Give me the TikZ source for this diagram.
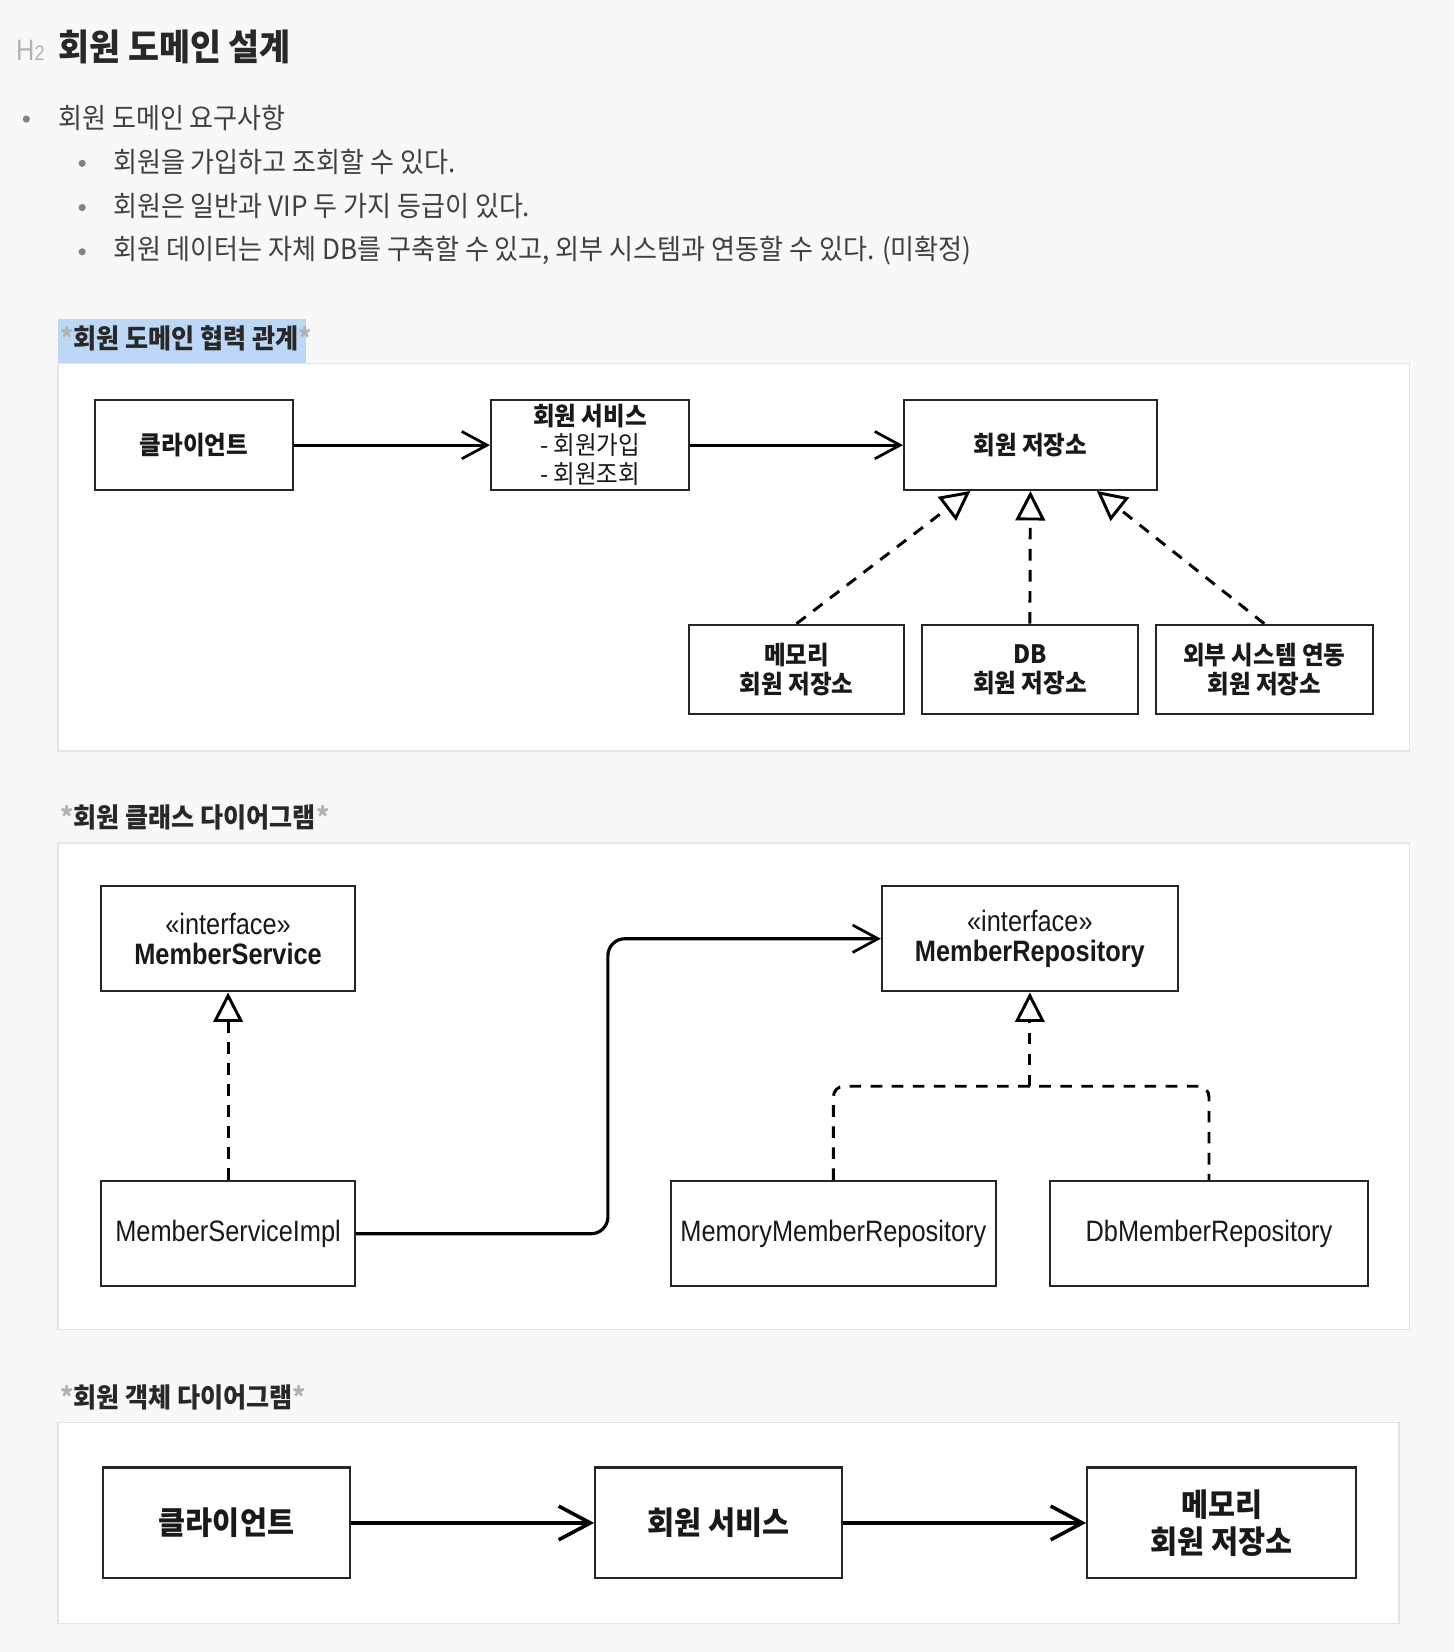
\documentclass[tikz,border=0pt]{standalone}
\usepackage{fontspec}
\setmainfont{Noto Sans CJK KR}[FakeStretch=0.93]
\newfontfamily\umlfont{Liberation Sans}[FakeStretch=0.86]
\usetikzlibrary{arrows.meta}

\definecolor{pagebg}{RGB}{248,248,248}
\definecolor{panelline}{RGB}{228,228,228}
\definecolor{selblue}{RGB}{189,216,246}
\definecolor{headtext}{RGB}{40,40,40}
\definecolor{bodytext}{RGB}{64,64,64}
\definecolor{markgray}{RGB}{178,178,178}
\definecolor{dotgray}{RGB}{130,130,130}

\tikzset{
        txt/.style={anchor=west, inner sep=0pt, text=bodytext, font=\fontsize{13.3}{16}\selectfont},
        captxt/.style={anchor=west, inner sep=0pt, text=headtext, font=\bfseries\fontsize{12.8}{16}\selectfont},
        panel/.style={draw=panelline, line width=0.75pt, fill=white},
        box/.style={draw=black!85, line width=1pt, fill=white, align=center, inner sep=0pt,
                text=black!90, font=\bfseries\fontsize{12}{13.75}\selectfont},
        umlbox/.style={box, font=\umlfont\fontsize{14}{14}\selectfont},
        bigbox/.style={box, line width=1.1pt, font=\bfseries\fontsize{15}{17.5}\selectfont},
        dep/.style={line width=1.3pt, -{Straight Barb[length=12pt, width=13pt, line width=1.3pt]}},
        bigdep/.style={line width=1.7pt, -{Straight Barb[length=15pt, width=16pt, line width=1.7pt]}},
        dashline/.style={line width=1.4pt, dash pattern=on 5.5pt off 4.5pt},
        impl/.style={dashline, -{Triangle[open, length=14pt, width=14pt, line width=1.4pt]}}
}

\begin{document}
\begin{tikzpicture}[x=0.5pt,y=-0.5pt]
        \useasboundingbox[fill=pagebg] (0,0) rectangle (1380,1568);

        \node[txt, text=markgray, font=\umlfont] (h2) at (15,48) {{\fontsize{14}{14}\selectfont H}{\fontsize{10}{10}\selectfont 2}};
        \node[txt, text=headtext, font=\bfseries\fontsize{17.2}{20}\selectfont] (title) at (55,45) {회원 도메인 설계};

        \fill[dotgray] (25,113) circle (1.7pt);
        \node[txt] (req) at (55,112) {회원 도메인 요구사항};
        \fill[dotgray] (78,155) circle (1.7pt);
        \node[txt] (req1) at (107,154) {회원을 가입하고 조회할 수 있다.};
        \fill[dotgray] (78,197) circle (1.7pt);
        \node[txt] (req2) at (107,196) {회원은 일반과 VIP 두 가지 등급이 있다.};
        \fill[dotgray] (78,239) circle (1.7pt);
        \node[txt] (req3) at (107,238) {회원 데이터는 자체 DB를 구축할 수 있고, 외부 시스템과 연동할 수 있다. (미확정)};

        \fill[selblue] (55,303) rectangle (290,345);
        \node[captxt] (cap1) at (57,321) {{\color{markgray}*}회원 도메인 협력 관계{\color{markgray}*}};
        \draw[panel] (55,345) rectangle (1338,713);

        \node[box, minimum width=94pt, minimum height=42.5pt] (client) at (184,422.5) {클라이언트};
        \node[box, minimum width=94pt, minimum height=42.5pt] (service) at (560,422.5) {회원 서비스\\\mdseries - 회원가입\\\mdseries - 회원조회};
        \node[box, minimum width=120pt, minimum height=42.5pt] (repo) at (978,422.5) {회원 저장소};
        \node[box, minimum width=102pt, minimum height=42.5pt] (memory) at (756,635.5) {메모리\\회원 저장소};
        \node[box, minimum width=102.5pt, minimum height=42.5pt] (db) at (977.5,635.5) {DB\\회원 저장소};
        \node[box, minimum width=103pt, minimum height=42.5pt] (external) at (1200,635.5) {외부 시스템 연동\\회원 저장소};

        \draw[dep] (client) -- (service);
        \draw[dep] (service) -- (repo);
        \draw[impl] (memory.north) -- ([xshift=-28.5pt]repo.south);
        \draw[impl] (db.north) -- (repo.south);
        \draw[impl] (external.north) -- ([xshift=31.5pt]repo.south);

        \node[captxt] (cap2) at (57,776) {{\color{markgray}*}회원 클래스 다이어그램{\color{markgray}*}};
        \draw[panel] (55,800) rectangle (1338,1262);

        \node[umlbox, minimum width=120.5pt, minimum height=50pt] (msvc) at (216.5,891) {«interface»\\\bfseries MemberService};
        \node[umlbox, minimum width=120.5pt, minimum height=50pt] (msvcimpl) at (216.5,1171) {MemberServiceImpl};
        \node[umlbox, minimum width=140.5pt, minimum height=50pt] (mrepo) at (977.5,891) {«interface»\\\bfseries MemberRepository\vphantom{g}};
        \node[umlbox, minimum width=154pt, minimum height=50pt] (memrepo) at (791,1171) {MemoryMemberRepository};
        \node[umlbox, minimum width=150.5pt, minimum height=50pt] (dbrepo) at (1147.5,1171) {DbMemberRepository};

        \coordinate (bend) at (577,1031);
        \coordinate (fork) at (977.5,1031);
        \draw[impl] (msvcimpl) -- (msvc);
        \draw[dep, line width=1.5pt, rounded corners=8pt] (msvcimpl.east) -| (bend) |- (mrepo.west);
        \draw[impl] (fork) -- (mrepo.south);
        \draw[dashline, rounded corners=5pt] (memrepo.north) |- (fork) -| (dbrepo.north);

        \node[captxt] (cap3) at (57,1326) {{\color{markgray}*}회원 객체 다이어그램{\color{markgray}*}};
        \draw[panel] (55,1350) rectangle (1328,1541);

        \node[bigbox, minimum width=117pt, minimum height=52.5pt] (objclient) at (215,1445.5) {클라이언트};
        \node[bigbox, minimum width=117pt, minimum height=52.5pt] (objservice) at (682,1445.5) {회원 서비스};
        \node[bigbox, minimum width=127.5pt, minimum height=52.5pt] (objmemory) at (1159.5,1445.5) {메모리\\회원 저장소};

        \draw[bigdep] (objclient) -- (objservice);
        \draw[bigdep] (objservice) -- (objmemory);
\end{tikzpicture}
\end{document}
